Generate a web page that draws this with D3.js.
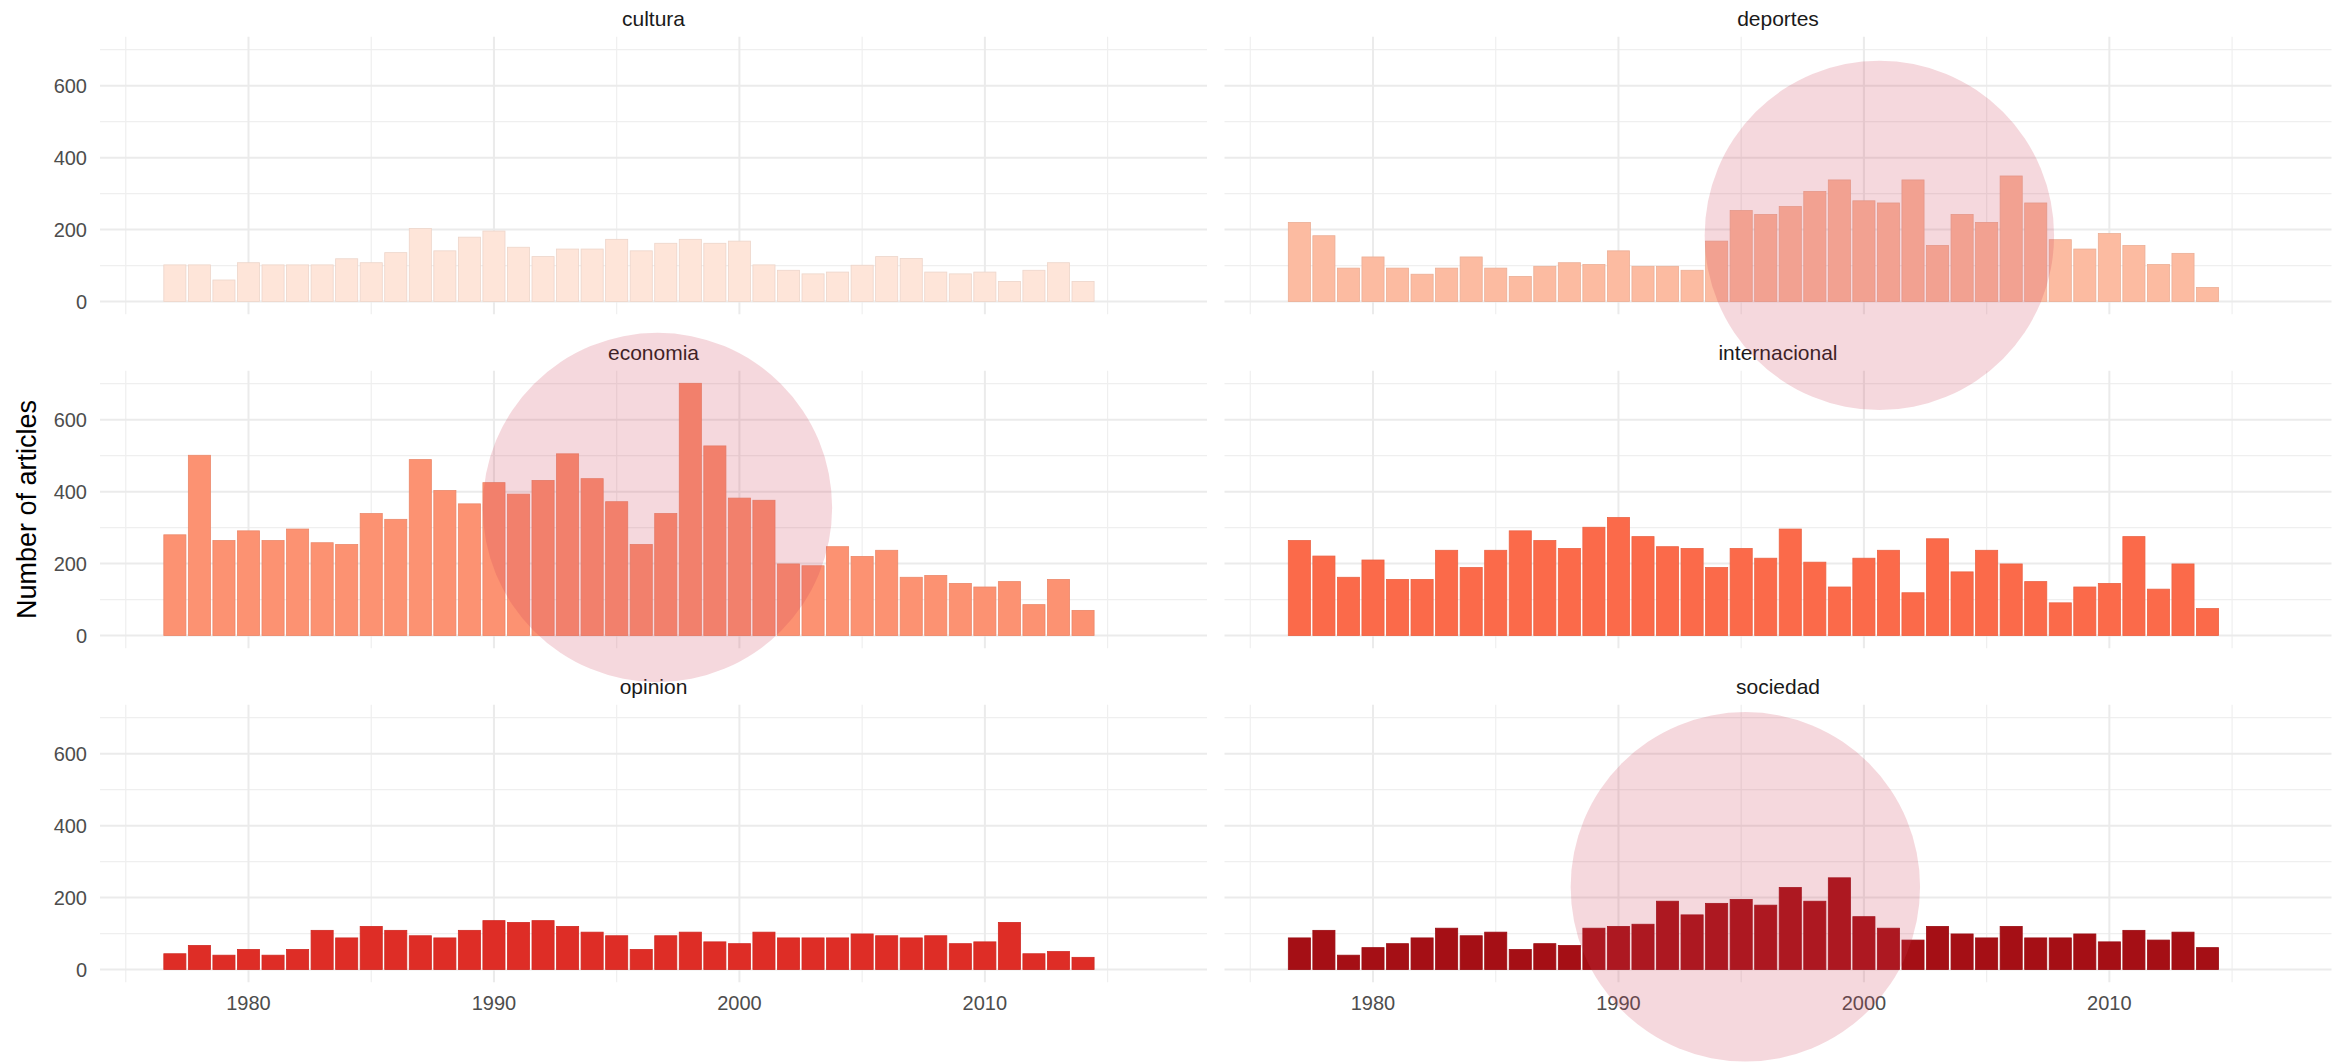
<!DOCTYPE html>
<html>
<head>
<meta charset="utf-8">
<script src="https://cdn.jsdelivr.net/npm/d3@7"></script>
<style>
  html, body { margin: 0; padding: 0; background: #ffffff; }
  svg { display: block; }
  text { font-family: "Liberation Sans", Arial, Helvetica, sans-serif; }
</style>
</head>
<body>
<svg id="chart" width="2351" height="1062"></svg>
<script>
// ---------------- DATA ----------------
const years = [1977,1978,1979,1980,1981,1982,1983,1984,1985,1986,1987,1988,1989,1990,1991,1992,1993,1994,1995,1996,
               1997,1998,1999,2000,2001,2002,2003,2004,2005,2006,2007,2008,2009,2010,2011,2012,2013,2014];

const sections = ["cultura", "deportes", "economia", "internacional", "opinion", "sociedad"];

const cultura = [102,102,60,108,102,102,102,119,108,136,203,141,179,196,151,125,146,146,173,141,
                 162,173,162,168,102,87,77,82,101,125,120,82,77,82,56,87,108,56];
const deportes = [220,183,93,124,93,76,93,124,93,70,98,108,103,141,98,98,87,168,253,242,
                  264,306,338,280,274,338,156,242,220,349,274,172,146,189,156,103,134,39];
const economia = [280,501,264,291,264,296,258,253,339,323,489,403,366,425,393,431,505,436,372,253,
                  339,701,527,382,376,199,194,247,220,237,162,167,145,135,150,86,156,70];
const internacional = [264,221,162,210,156,156,237,189,237,291,264,242,301,328,275,247,242,189,242,215,
                       296,204,135,215,237,119,269,177,237,199,150,91,135,145,275,129,199,75];
const opinion = [44,67,40,56,40,56,109,88,120,109,94,88,109,136,131,136,120,104,94,56,
                 94,104,77,72,104,88,88,88,99,94,88,94,72,77,131,44,50,34];
const sociedad = [88,109,40,61,72,88,115,94,104,56,72,67,115,120,126,190,152,184,195,179,
                  228,190,255,147,115,82,120,99,88,120,88,88,99,77,109,82,104,61];

const seriesValues = [cultura, deportes, economia, internacional, opinion, sociedad];
const sectionColors = ["#FEE5D9", "#FCBBA1", "#FC9272", "#FB6A4A", "#DE2D26", "#A50F15"];

const yTicksMajor = [0, 200, 400, 600];
const yTicksMinor = [100, 300, 500, 700];
const xTicksMajor = [1980, 1990, 2000, 2010];
const xTicksMinor = [1975, 1985, 1995, 2005, 2015];
const xDomain = [1973.95, 2019.05];

// highlight circles (centre in data units of the facet)
const highlightSection = ["deportes", "economia", "sociedad"];
const highlightYear = [2000.63, 1996.66, 1995.17];
const highlightValue = [184, 356, 230];

const yTitle = "Number of articles";

// ---------------- LAYOUT ----------------
const svg = d3.select("#chart");
const colLeft = [100, 1224.5];
const colWidth = 1107;
const rowTop = [36.7, 370.7, 704.7];
const rowHeight = 277.5;
const circleRadius = 174.7;

const maxVal = d3.max(seriesValues.flat());
const yDomain = [-0.05 * maxVal, maxVal * 1.05];

const x = d3.scaleLinear().domain(xDomain).range([0, colWidth]);
const y = d3.scaleLinear().domain(yDomain).range([rowHeight, 0]);

const panels = sections.map((name, i) => ({
  name, i,
  col: i % 2, row: Math.floor(i / 2),
  values: seriesValues[i],
  color: sectionColors[i]
}));

const gPanels = svg.selectAll("g.panel").data(panels).join("g")
  .attr("class", "panel")
  .attr("transform", d => `translate(${colLeft[d.col]},${rowTop[d.row]})`);

gPanels.each(function(p) {
  const g = d3.select(this);

  // minor grid
  g.selectAll("line.ymin").data(yTicksMinor).join("line")
    .attr("x1", 0).attr("x2", colWidth)
    .attr("y1", d => y(d)).attr("y2", d => y(d))
    .attr("stroke", "#EFEFEF").attr("stroke-width", 1.2);
  g.selectAll("line.xmin").data(xTicksMinor).join("line")
    .attr("y1", 0).attr("y2", rowHeight)
    .attr("x1", d => x(d)).attr("x2", d => x(d))
    .attr("stroke", "#EFEFEF").attr("stroke-width", 1.2);
  // major grid
  g.selectAll("line.ymaj").data(yTicksMajor).join("line")
    .attr("x1", 0).attr("x2", colWidth)
    .attr("y1", d => y(d)).attr("y2", d => y(d))
    .attr("stroke", "#EBEBEB").attr("stroke-width", 2);
  g.selectAll("line.xmaj").data(xTicksMajor).join("line")
    .attr("y1", 0).attr("y2", rowHeight)
    .attr("x1", d => x(d)).attr("x2", d => x(d))
    .attr("stroke", "#EBEBEB").attr("stroke-width", 2);

  // bars
  const stroke = d3.color(p.color).darker(0.2).formatHex();
  g.selectAll("rect.bar").data(p.values.map((v, k) => ({year: years[k], v}))).join("rect")
    .attr("class", "bar")
    .attr("x", d => x(d.year - 0.45))
    .attr("width", d => x(d.year + 0.45) - x(d.year - 0.45))
    .attr("y", d => y(d.v))
    .attr("height", d => y(0) - y(d.v))
    .attr("fill", p.color)
    .attr("stroke", stroke).attr("stroke-width", 0.8);

  // strip title
  g.append("text")
    .attr("x", colWidth / 2).attr("y", -18)
    .attr("text-anchor", "middle").attr("dominant-baseline", "central")
    .attr("font-size", 21).attr("fill", "#1A1A1A")
    .text(p.name);

  // y axis labels (left column only)
  if (p.col === 0) {
    g.selectAll("text.ytick").data(yTicksMajor).join("text")
      .attr("x", -13).attr("y", d => y(d))
      .attr("text-anchor", "end").attr("dominant-baseline", "central")
      .attr("font-size", 20).attr("fill", "#4D4D4D")
      .text(d => d3.format("d")(d));
  }
  // x axis labels (bottom row only)
  if (p.row === 2) {
    g.selectAll("text.xtick").data(xTicksMajor).join("text")
      .attr("x", d => x(d)).attr("y", rowHeight + 21)
      .attr("text-anchor", "middle").attr("dominant-baseline", "central")
      .attr("font-size", 20).attr("fill", "#4D4D4D")
      .text(d => d);
  }
});

// y title
svg.append("text")
  .attr("transform", `translate(27,${(rowTop[0] + rowTop[2] + rowHeight) / 2}) rotate(-90)`)
  .attr("text-anchor", "middle").attr("dominant-baseline", "central")
  .attr("font-size", 27).attr("fill", "#000")
  .text(yTitle);

// highlight circles on top
highlightSection.forEach((s, k) => {
  const p = panels.find(d => d.name === s);
  svg.append("circle")
    .attr("cx", colLeft[p.col] + x(highlightYear[k]))
    .attr("cy", rowTop[p.row] + y(highlightValue[k]))
    .attr("r", circleRadius)
    .attr("fill", "rgb(205,60,85)")
    .attr("fill-opacity", 0.2);
});
</script>
</body>
</html>
